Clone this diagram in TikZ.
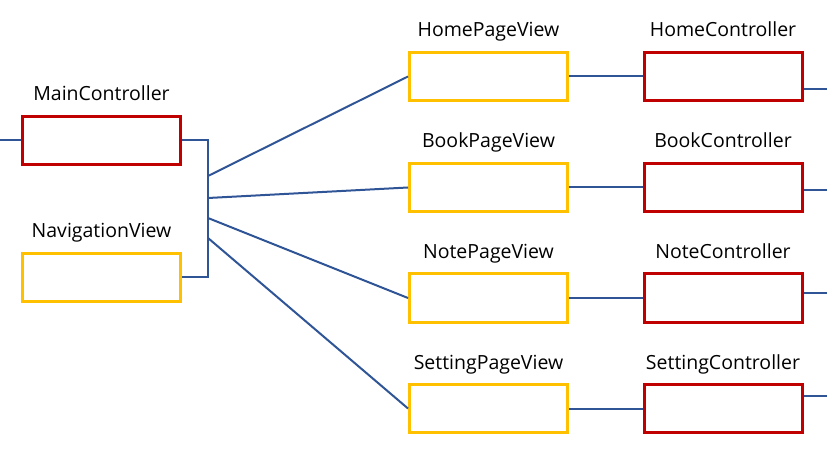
\documentclass[tikz,border=0pt]{standalone}
\usepackage{fontspec}
\setmainfont{Open Sans}
\usepackage{tikz}
\usetikzlibrary{positioning,calc}
\definecolor{ctrlred}{RGB}{192,0,0}
\definecolor{viewgold}{RGB}{255,192,0}
\definecolor{linkblue}{RGB}{47,85,151}
\tikzset{
  ctrlbox/.style={rectangle,draw=ctrlred,line width=3pt,minimum width=158pt,minimum height=48pt,inner sep=0pt},
  viewbox/.style={rectangle,draw=viewgold,line width=3pt,minimum width=158pt,minimum height=48pt,inner sep=0pt},
  link/.style={draw=linkblue,line width=2pt},
  boxlabel/.style={font=\fontsize{19.5}{23}\selectfont,anchor=base,inner sep=0pt}
}

\begin{document}
\begin{tikzpicture}[x=1pt,y=-1pt]
  \useasboundingbox (0,0) rectangle (827,454);

  % left column
  \node[ctrlbox] (main) at (101.5,140.5) {};
  \node[viewbox] (nav)  at (101.5,277.5) {};
  \node[boxlabel] (mainlbl) at (101.5,101) {MainController};
  \node[boxlabel] (navlbl)  at (101.5,238) {NavigationView};

  \coordinate (inL) at (0,140.5);
  \draw[link] (inL) -- (main.west);

  \coordinate (brkT) at (208,140.5);
  \coordinate (brkB) at (208,277.5);
  \draw[link] (main.east) -- (brkT) -- (brkB) -- (nav.east);

  % pages and controllers
  \foreach \n/\v/\c/\y/\b/\o in {
      home/HomePageView/HomeController/76.5/176/-12.5,
      book/BookPageView/BookController/187.5/198/-2.5,
      note/NotePageView/NoteController/298/218/5,
      set/SettingPageView/SettingController/408.5/238/13}{
    \node[viewbox] (\n v) at (488.5,\y) {};
    \node[ctrlbox] (\n c) at (723,\y) {};
    \node[boxlabel] (\n vl) at (488.5,\y-39.5) {\v};
    \node[boxlabel] (\n cl) at (723,\y-39.5) {\c};
    \coordinate (\n b) at (208,\b);
    \draw[link] (\n b) -- (\n v.west);
    \draw[link] (\n v.east) -- (\n c.west);
    \coordinate (\n out) at (827,\y-\o);
    \draw[link] ([yshift=\o pt]\n c.east) -- (\n out);
  }
\end{tikzpicture}
\end{document}
